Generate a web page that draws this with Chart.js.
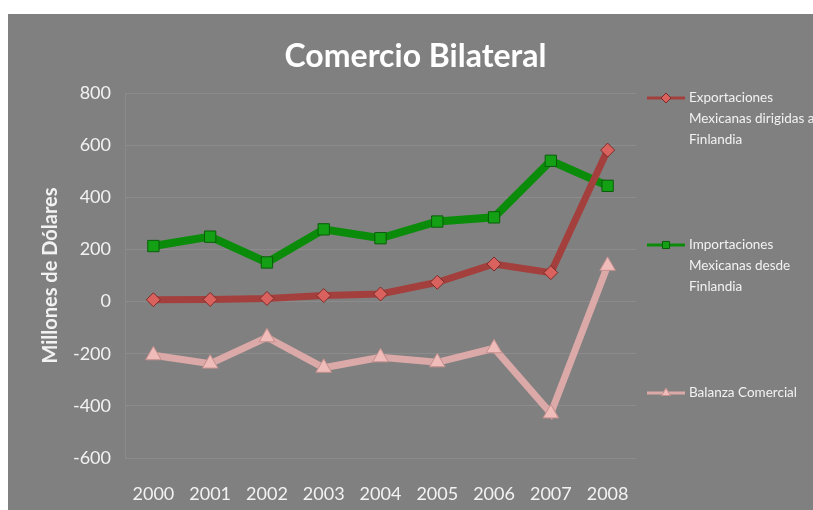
<!DOCTYPE html>
<html>
<head>
<meta charset="utf-8">
<script src="https://cdn.jsdelivr.net/npm/chart.js@4/dist/chart.umd.min.js"></script>
<style>
  html, body { margin: 0; padding: 0; background: #ffffff; }
  #box {
    position: absolute; left: 8px; top: 14px;
    width: 805px; height: 496px; background: #808080;
  }
</style>
</head>
<body>
<div id="box"><canvas id="chart"></canvas></div>
<script>
const years = ['2000', '2001', '2002', '2003', '2004', '2005', '2006', '2007', '2008'];
const exportaciones = [7, 8, 12, 23, 29, 74, 144, 111, 581];
const importaciones = [213, 249, 150, 277, 243, 307, 323, 540, 444];
const balanza = [-206, -238, -137, -254, -214, -233, -179, -429, 137];
const yTicks = [-600, -400, -200, 0, 200, 400, 600, 800];

const chartTitle = 'Comercio Bilateral';
const legendLines = [
  ['Exportaciones', 'Mexicanas dirigidas a', 'Finlandia'],
  ['Importaciones', 'Mexicanas desde', 'Finlandia'],
  ['Balanza Comercial'],
];
const legendY = [84, 231, 379];

const textColor = '#f2f2f2';
const font = 'Lato, "Open Sans", sans-serif';

// title centred on the whole box + right-hand legend with wrapped labels
const decorations = {
  id: 'decorations',
  afterDraw(chart) {
    const ctx = chart.ctx;
    ctx.save();
    ctx.fillStyle = '#ffffff';
    ctx.font = 'bold 32px ' + font;
    ctx.textAlign = 'center';
    ctx.textBaseline = 'middle';
    ctx.fillText(chartTitle, chart.width / 2 + 5, 43);
    ctx.restore();

    const x0 = 639;
    chart.data.datasets.forEach((ds, i) => {
      const y = legendY[i];
      ctx.save();
      ctx.strokeStyle = ds.borderColor;
      ctx.lineWidth = 3;
      ctx.beginPath();
      ctx.moveTo(x0, y);
      ctx.lineTo(x0 + 38, y);
      ctx.stroke();
      ctx.fillStyle = ds.pointBackgroundColor;
      ctx.strokeStyle = ds.pointBorderColor;
      ctx.lineWidth = 1;
      Chart.helpers.drawPoint(ctx, { pointStyle: ds.pointStyle, radius: 5, rotation: 0, borderWidth: 1 }, x0 + 19, y);
      ctx.fillStyle = textColor;
      ctx.font = '13.5px ' + font;
      ctx.textBaseline = 'middle';
      legendLines[i].forEach((t, k) => ctx.fillText(t, x0 + 42, y + k * 21));
      ctx.restore();
    });
  }
};

new Chart(document.getElementById('chart'), {
  type: 'line',
  data: {
    labels: years,
    datasets: [
      {
        label: 'Exportaciones Mexicanas dirigidas a Finlandia',
        data: exportaciones,
        borderColor: '#a3403d',
        borderWidth: 7,
        pointStyle: 'rectRot',
        pointRadius: 7,
        pointBackgroundColor: '#d9625e',
        pointBorderColor: '#7a2b28',
        pointBorderWidth: 1,
      },
      {
        label: 'Importaciones Mexicanas desde Finlandia',
        data: importaciones,
        borderColor: '#0a8c0a',
        borderWidth: 8,
        pointStyle: 'rect',
        pointRadius: 8,
        pointBackgroundColor: '#14a014',
        pointBorderColor: '#0a5c0a',
        pointBorderWidth: 1,
      },
      {
        label: 'Balanza Comercial',
        data: balanza,
        borderColor: '#dba9a7',
        borderWidth: 7,
        pointStyle: 'triangle',
        pointRadius: 9,
        pointBackgroundColor: '#efbcba',
        pointBorderColor: '#c48f8d',
        pointBorderWidth: 1,
      },
    ],
  },
  options: {
    responsive: true,
    maintainAspectRatio: false,
    animation: false,
    layout: { padding: { left: 27, right: 177, top: 79, bottom: 0 } },
    plugins: {
      legend: { display: false },
      tooltip: { enabled: false },
      title: { display: false },
    },
    scales: {
      x: {
        offset: true,
        grid: { display: false },
        border: { display: false },
        afterFit: (axis) => { axis.height = 52; },
        ticks: { color: textColor, font: { family: font, size: 18 }, padding: 17 },
      },
      y: {
        min: -600,
        max: 800,
        afterBuildTicks: (axis) => { axis.ticks = yTicks.map((v) => ({ value: v })); },
        afterFit: (axis) => { axis.width = 90; },
        grid: { color: '#8c8c8c', lineWidth: 1, drawTicks: false },
        border: { color: '#8a8a8a' },
        ticks: { color: textColor, font: { family: font, size: 18 }, padding: 14 },
        title: {
          display: true,
          text: 'Millones de Dólares',
          color: textColor,
          font: { family: font, size: 20, weight: 'bold' },
          padding: { bottom: 8 },
        },
      },
    },
  },
  plugins: [decorations],
});
</script>
</body>
</html>
